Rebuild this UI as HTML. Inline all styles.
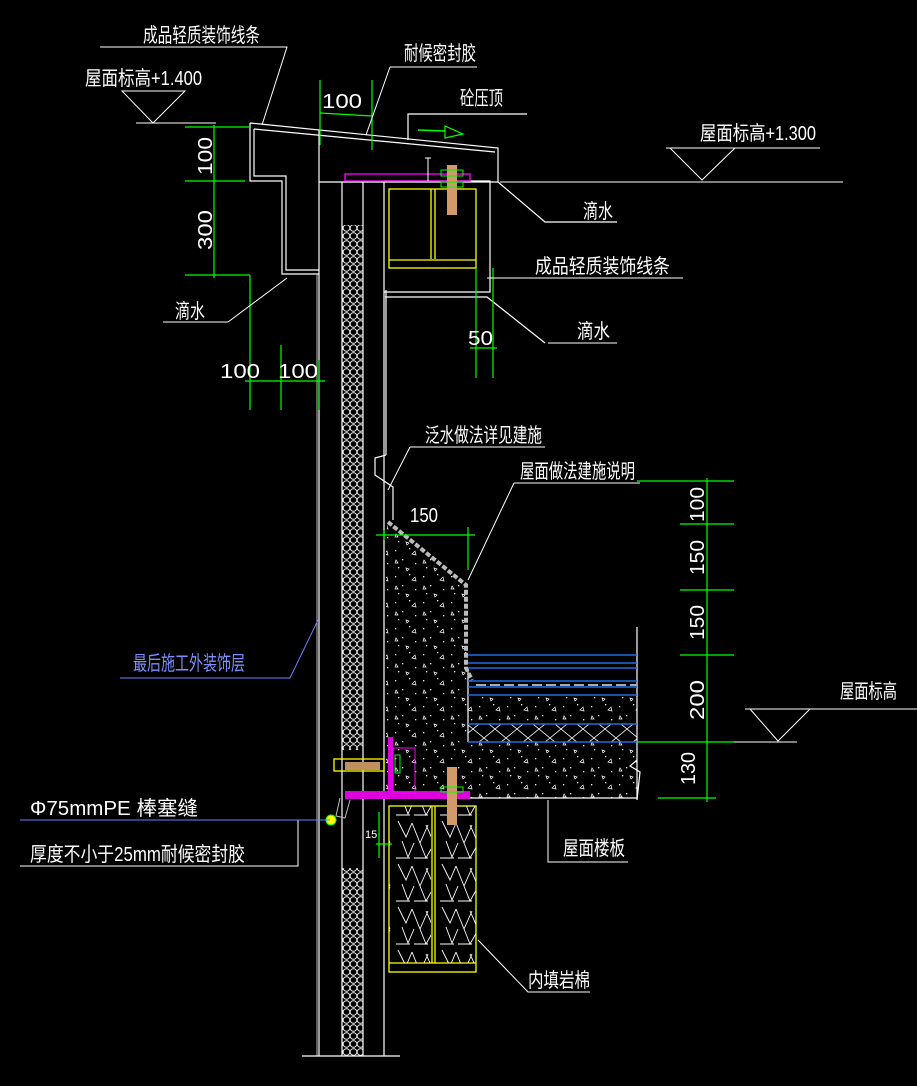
<!DOCTYPE html>
<html><head><meta charset="utf-8">
<style>
html,body{margin:0;padding:0;background:#000;}
svg{display:block;}
text{font-family:"Liberation Sans","Noto Sans CJK SC",sans-serif;fill:#fff;}
</style></head>
<body>
<svg width="917" height="1086" viewBox="0 0 917 1086" xmlns="http://www.w3.org/2000/svg">
<defs>
<pattern id="hc" width="7" height="8" patternUnits="userSpaceOnUse">
<circle cx="3.5" cy="4" r="3.3" fill="none" stroke="#fff" stroke-width="0.8"/>
</pattern>
<pattern id="conc" width="28" height="26" patternUnits="userSpaceOnUse">
<rect x="3" y="4" width="1.3" height="1.3" fill="#fff"/>
<rect x="17" y="2" width="1.3" height="1.3" fill="#fff"/>
<rect x="10" y="13" width="1.3" height="1.3" fill="#fff"/>
<rect x="23" y="17" width="1.3" height="1.3" fill="#fff"/>
<rect x="6" y="21" width="1.3" height="1.3" fill="#fff"/>
<path d="M20 8 l3 -3 l1 4 z M4 14 l2 3 h-3z M14 22 l3 1 l-2 2z" fill="none" stroke="#fff" stroke-width="0.7"/>
</pattern>
<pattern id="wool" width="44" height="43" patternUnits="userSpaceOnUse">
<path d="M2 4 l8 16 l6 -14 M16 6 l8 20 l8 -18 M30 8 l8 18 M6 24 l6 16 l6 -14 M24 26 l6 15 l8 -14 M0 41 h14 M18 41 h14" fill="none" stroke="#fff" stroke-width="0.9"/>
</pattern>
<pattern id="xh" width="22" height="18" patternUnits="userSpaceOnUse">
<path d="M0 0 L22 18 M22 0 L0 18" stroke="#fff" stroke-width="0.8"/>
</pattern>
</defs>

<g stroke="#fff" fill="none" stroke-width="1.2">
<path d="M250 123 L498 148 L498 182 L319 182 M250 123 L250 181 L282 181 L282 274 L319 274"/>
<path d="M254 129 L495 152 M254 129 L254 176 L286 176 L286 270 L319 270"/>
<path d="M408 140 L408 114 L527 114"/>
<path d="M319 130 L319 1056 M342 182 L342 1056 M363 182 L363 1056 M384 182 L384 1056"/>
<path d="M317 274 L317 1056" stroke="#bbb" stroke-width="1"/>
<path d="M302 1056 L400 1056"/>
<path d="M384 181 L490 181 L490 292 L384 292 M385 297 L487 297 L545 343"/>
<path d="M498 182 L545 222 L617 222"/>
<path d="M386 455 L375 458 L375 475 L393 487 L393 520 M386 290 L386 455"/>
<path d="M468 668 L468 742"/>
<path d="M384 798 L637 798 M637 627 L637 800 M637 742 L637 760 L630 766 L640 772 L637 800"/>
</g>

<rect x="342" y="225" width="21" height="525" fill="url(#hc)"/>
<rect x="342" y="868" width="21" height="188" fill="url(#hc)"/>
<path d="M386 535 L388 520 L468 585 L468 742 L637 742 L637 798 L386 798 Z" fill="url(#conc)"/>
<rect x="468" y="695" width="169" height="28" fill="url(#conc)"/>
<rect x="468" y="724" width="169" height="18" fill="url(#xh)"/>
<path d="M388 522 L466 585 L466 668 L472 680" stroke="#bbb" stroke-width="4" fill="none" stroke-dasharray="5 2"/>
<g stroke="#1e6fe0" stroke-width="1.5">
<path d="M468 655 H637 M468 663 H637 M468 668 H637 M468 681 H637 M468 687 H637 M468 695 H637 M468 724 H637 M468 742 H637"/>
</g>
<path d="M476 685 H637" stroke="#aaa" stroke-width="2" stroke-dasharray="10 4"/>

<g stroke="#ff0" fill="none" stroke-width="1.3">
<rect x="389" y="189" width="87" height="79"/>
<path d="M389 260 H476 M431 189 V259 M435 189 V259"/>
<rect x="389" y="806" width="87" height="166"/>
<path d="M389 963 H476 M432 806 V963 M435 806 V963"/>
<rect x="334" y="759" width="50" height="12"/>
</g>
<rect x="389" y="806" width="42" height="157" fill="url(#wool)"/>
<rect x="436" y="806" width="40" height="157" fill="url(#wool)"/>
<rect x="345" y="174" width="125" height="7" fill="none" stroke="#f0f" stroke-width="1.3"/>
<rect x="345" y="791" width="125" height="8" fill="#d0d" />
<rect x="388" y="737" width="5" height="60" fill="#d0d"/>
<rect x="393" y="748" width="22" height="45" fill="none" stroke="#f0f"/>
<rect x="447" y="165" width="10" height="50" fill="#d09a6a"/>
<rect x="441" y="170" width="22" height="6" fill="none" stroke="#0f0"/>
<rect x="441" y="182" width="22" height="5" fill="none" stroke="#0f0"/>
<rect x="447" y="767" width="10" height="58" fill="#d09a6a"/>
<rect x="441" y="787" width="22" height="5" fill="none" stroke="#0f0"/>
<rect x="395" y="755" width="5" height="18" fill="none" stroke="#0f0"/>
<rect x="345" y="762" width="35" height="8" fill="#c09060"/>
<circle cx="331" cy="820" r="5" fill="#ff0" stroke="#0f0"/>
<path d="M340 798 L336 816 L345 818 L350 800" stroke="#bbb" fill="none"/>
<path d="M425 158 L431 158 M428 158 V181" stroke="#fff"/>

<g stroke="#0f0" stroke-width="1.2" fill="none">
<path d="M214 125 V278 M185 127 H250 M185 181 H245 M185 275 H250"/>
<path d="M250 275 V410 M281 345 V410 M319 360 V410 M245 381 H325"/>
<path d="M320 80 V145 M372 80 V150 M320 113 L372 116"/>
<path d="M476 268 V378 M493 268 V378 M470 348 H497"/>
<path d="M376 535 H475 M468 527 V570 M384 530 V540"/>
<path d="M707 478 V802 M637 481 H734 M680 524 H734 M680 590 H734 M680 655 H734 M637 742 H734 M658 798 H716"/>
<path d="M379 812 V858 M376 844 H392"/>
<path d="M418 130 L445 131" stroke-width="1.5"/>
<path d="M445 126 L463 134 L445 138 Z"/>
</g>

<g stroke="#fff" fill="none" stroke-width="1">
<path d="M100 47 H287 L262 125"/>
<path d="M122 91 H185 L153 123 Z M136 123 H216"/>
<path d="M390 67 H477 M390 67 L366 135"/>
<path d="M666 148 H820 M670 148 L702 180 L735 148 M500 182 H843"/>
<path d="M487 278 H683"/>
<path d="M548 343 H617"/>
<path d="M163 322 H228 L287 278"/>
<path d="M410 447 H545 M410 447 L388 490"/>
<path d="M514 483 H640 M514 483 L468 580"/>
<path d="M745 709 H917 M750 709 L778 741 L810 709 M734 742 H797"/>
<path d="M548 800 V862 H628"/>
<path d="M478 940 L528 992 H590"/>
<path d="M20 866 H298 V820"/>
</g>
<path d="M120 678 H290 L318 620" stroke="#6f7fff" fill="none"/>
<path d="M20 820 H330" stroke="#6f7fff" fill="none"/>

<g font-size="20">
<text x="143" y="42" textLength="117" lengthAdjust="spacingAndGlyphs">成品轻质装饰线条</text>
<text x="85" y="85" textLength="117" lengthAdjust="spacingAndGlyphs">屋面标高+1.400</text>
<text x="404" y="60" textLength="72" lengthAdjust="spacingAndGlyphs">耐候密封胶</text>
<text x="460" y="105" textLength="43" lengthAdjust="spacingAndGlyphs">砼压顶</text>
<text x="700" y="140" textLength="116" lengthAdjust="spacingAndGlyphs">屋面标高+1.300</text>
<text x="583" y="218" textLength="30" lengthAdjust="spacingAndGlyphs">滴水</text>
<text x="535" y="273" textLength="135" lengthAdjust="spacingAndGlyphs">成品轻质装饰线条</text>
<text x="577" y="338" textLength="33" lengthAdjust="spacingAndGlyphs">滴水</text>
<text x="175" y="318" textLength="30" lengthAdjust="spacingAndGlyphs">滴水</text>
<text x="425" y="442" textLength="117" lengthAdjust="spacingAndGlyphs">泛水做法详见建施</text>
<text x="520" y="478" textLength="115" lengthAdjust="spacingAndGlyphs">屋面做法建施说明</text>
<text x="840" y="698" textLength="57" lengthAdjust="spacingAndGlyphs">屋面标高</text>
<text x="563" y="855" textLength="62" lengthAdjust="spacingAndGlyphs">屋面楼板</text>
<text x="528" y="987" textLength="62" lengthAdjust="spacingAndGlyphs">内填岩棉</text>
<text x="30" y="815" textLength="168" lengthAdjust="spacingAndGlyphs">Φ75mmPE 棒塞缝</text>
<text x="30" y="861" textLength="215" lengthAdjust="spacingAndGlyphs">厚度不小于25mm耐候密封胶</text>
<text x="133" y="670" textLength="112" lengthAdjust="spacingAndGlyphs" style="fill:#7f8fff">最后施工外装饰层</text>
<text x="322" y="108" textLength="40" lengthAdjust="spacingAndGlyphs">100</text>
<text x="220" y="378" textLength="40" lengthAdjust="spacingAndGlyphs">100</text>
<text x="278" y="378" textLength="40" lengthAdjust="spacingAndGlyphs">100</text>
<text x="468" y="345" textLength="25" lengthAdjust="spacingAndGlyphs">50</text>
<text x="410" y="522" textLength="28" lengthAdjust="spacingAndGlyphs">150</text>
<text x="365" y="838" font-size="11">15</text>
<text transform="translate(212,175) rotate(-90)" textLength="38" lengthAdjust="spacingAndGlyphs">100</text>
<text transform="translate(212,250) rotate(-90)" textLength="40" lengthAdjust="spacingAndGlyphs">300</text>
<text transform="translate(704,522) rotate(-90)" textLength="35" lengthAdjust="spacingAndGlyphs">100</text>
<text transform="translate(704,575) rotate(-90)" textLength="35" lengthAdjust="spacingAndGlyphs">150</text>
<text transform="translate(704,640) rotate(-90)" textLength="35" lengthAdjust="spacingAndGlyphs">150</text>
<text transform="translate(704,720) rotate(-90)" textLength="40" lengthAdjust="spacingAndGlyphs">200</text>
<text transform="translate(695,785) rotate(-90)" textLength="33" lengthAdjust="spacingAndGlyphs">130</text>
</g>
</svg>
</body></html>
